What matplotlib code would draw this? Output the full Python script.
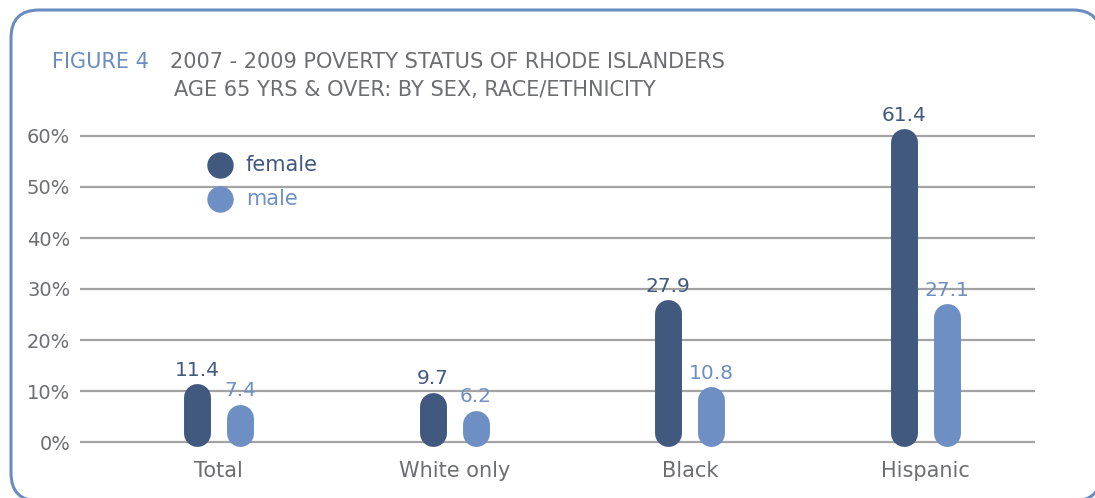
import matplotlib
matplotlib.use("Agg")
import numpy as np
import matplotlib.pyplot as plt
from matplotlib.patches import FancyBboxPatch
from matplotlib.lines import Line2D
from matplotlib.transforms import IdentityTransform

# ── data ──────────────────────────────────────────────────────────────────────
categories = ["Total", "White only", "Black", "Hispanic"]
female = [11.4, 9.7, 27.9, 61.4]
male = [7.4, 6.2, 10.8, 27.1]
yticks = [0, 10, 20, 30, 40, 50, 60]

# ── style ─────────────────────────────────────────────────────────────────────
FEMALE_C = "#41587f"
MALE_C = "#6e8fc3"
TEXT_C = "#6d6e71"
GRID_C = "#a3a3a3"
FRAME_C = "#6b8cc0"
plt.rcParams["font.family"] = ["DejaVu Sans"]

W, H, DPI = 1095, 498, 100
fig = plt.figure(figsize=(W / DPI, H / DPI), dpi=DPI)

# rounded frame around the panel (pixel coordinates); a near-invisible face
# keeps agg from clipping the off-canvas corners into straight chords
frame = FancyBboxPatch((11, -3), 1090, 491,
                       boxstyle="round,pad=0,rounding_size=28",
                       transform=IdentityTransform(),
                       facecolor=(1, 1, 1, 0.01), zorder=-1,
                       edgecolor=FRAME_C, linewidth=2.2, clip_on=False)
fig.add_artist(frame)

ax = fig.add_axes([80 / W, 45.8 / H, 955 / W, 336.6 / H])
ax.set_xlim(-0.589, 3.466)
ax.set_ylim(-2, 64)
for s in ax.spines.values():
    s.set_visible(False)

for y in yticks:
    ax.axhline(y, color=GRID_C, lw=1.6, zorder=1)

ax.set_yticks(yticks)
ax.set_yticklabels([f"{y}%" for y in yticks])
x = np.arange(len(categories))
ax.set_xticks(x)
ax.set_xticklabels(categories)
ax.tick_params(length=0, colors=TEXT_C, labelsize=14)
ax.tick_params(axis="y", pad=7)
ax.tick_params(axis="x", pad=6, labelsize=15)

# capsule bars: thick lines with round caps
off = 0.0915
lw_pt = 19.4
r = 13.5 / 5.1  # cap radius in data units
for xs, vals, col in [(x - off, female, FEMALE_C), (x + off, male, MALE_C)]:
    for xi, v in zip(xs, vals):
        lo, hi = -0.8 + r, v - r
        if hi < lo:
            hi = lo = (v - 0.8) / 2
        ax.plot([xi, xi], [lo, hi], color=col, lw=lw_pt,
                solid_capstyle="round", zorder=3)
        ax.annotate(f"{v}", (xi, v), xytext=(0, 3), textcoords="offset points",
                    ha="center", va="bottom", color=col, fontsize=14.5)

# legend
for label, col, ypx in [("female", FEMALE_C, 165), ("male", MALE_C, 199)]:
    fig.add_artist(Line2D([220 / W], [1 - ypx / H], ls="none", marker="o",
                          ms=18, color=col, transform=fig.transFigure))
    fig.text(246 / W, 1 - ypx / H, label, color=col, fontsize=15, va="center")

fig.text(52 / W, 1 - 62 / H, "FIGURE 4", color=FRAME_C, fontsize=15,
         va="center")
fig.text(170 / W, 1 - 62 / H, "2007 - 2009 POVERTY STATUS OF RHODE ISLANDERS",
         color=TEXT_C, fontsize=15, va="center")
fig.text(174 / W, 1 - 90 / H, "AGE 65 YRS & OVER: BY SEX, RACE/ETHNICITY",
         color=TEXT_C, fontsize=15, va="center")

fig.savefig("out.png", dpi=DPI)
